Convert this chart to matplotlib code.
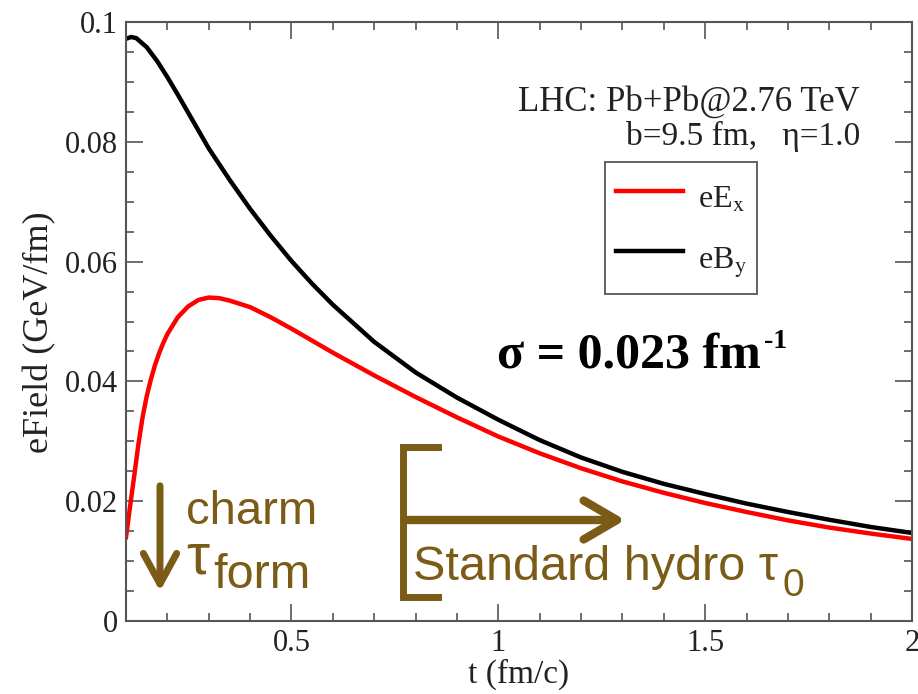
import matplotlib
matplotlib.use("Agg")
import matplotlib.pyplot as plt
from matplotlib.ticker import MultipleLocator

# valeurs
t_B = [0.10, 0.1125, 0.125, 0.15, 0.175, 0.20, 0.225, 0.25, 0.275, 0.30,
       0.35, 0.40, 0.45, 0.50, 0.55, 0.60, 0.70, 0.80, 0.90, 1.00, 1.10,
       1.20, 1.30, 1.40, 1.50, 1.60, 1.70, 1.80, 1.90, 2.00]
eBy = [0.0972, 0.0975, 0.0973, 0.0958, 0.0935, 0.0908, 0.0879, 0.0849,
       0.0819, 0.0789, 0.0737, 0.0688, 0.0643, 0.0601, 0.0563, 0.0528,
       0.0466, 0.0415, 0.0373, 0.0336, 0.0302, 0.0273, 0.0249, 0.0229,
       0.0212, 0.0196, 0.0182, 0.0169, 0.0157, 0.0147]

t_E = [0.10, 0.11, 0.12, 0.13, 0.14, 0.15, 0.16, 0.17, 0.18, 0.19, 0.20,
       0.225, 0.25, 0.275, 0.30, 0.325, 0.35, 0.40, 0.45, 0.50, 0.55, 0.60,
       0.70, 0.80, 0.90, 1.00, 1.10, 1.20, 1.30, 1.40, 1.50, 1.60, 1.70,
       1.80, 1.90, 2.00]
eEx = [0.0140, 0.0192, 0.0243, 0.0295, 0.0340, 0.0375, 0.0403, 0.0427,
       0.0447, 0.0464, 0.0479, 0.0507, 0.0525, 0.0536, 0.0540, 0.0539,
       0.0535, 0.0524, 0.0507, 0.0488, 0.0468, 0.0448, 0.0410, 0.0374,
       0.0340, 0.0308, 0.0280, 0.0255, 0.0233, 0.0214, 0.0197, 0.0182,
       0.0168, 0.0156, 0.0146, 0.0137]

x_ticks = [0.5, 1, 1.5, 2]
x_labels = ["0.5", "1", "1.5", "2"]
y_ticks = [0, 0.02, 0.04, 0.06, 0.08, 0.1]
y_labels = ["0", "0.02", "0.04", "0.06", "0.08", "0.1"]

plt.rcParams["font.family"] = ["Liberation Serif", "DejaVu Serif"]
plt.rcParams["mathtext.fontset"] = "stix"

brown = "#7a5c17"
gris = "#555555"
texte = "#222222"

fig = plt.figure(figsize=(9.18, 6.94), dpi=100)
ax = fig.add_axes([126 / 918, 73 / 694, 786 / 918, 599 / 694])


def px(x, y):
    # pixels de l'image -> fraction des axes
    return ((x - 126) / 786, (621 - y) / 599)


ax.plot(t_E, eEx, color="red", lw=3.2, label=r"eE$_{\rm x}$")
ax.plot(t_B, eBy, color="black", lw=3.2, label=r"eB$_{\rm y}$")

ax.set_xlim(0.1, 2)
ax.set_ylim(0, 0.1)
ax.set_xticks(x_ticks)
ax.set_xticklabels(x_labels)
ax.set_yticks(y_ticks)
ax.set_yticklabels(y_labels)
ax.xaxis.set_minor_locator(MultipleLocator(0.1))
ax.yaxis.set_minor_locator(MultipleLocator(0.005))
ax.tick_params(which="both", direction="in", top=True, right=True,
               color=gris, width=1.2, labelsize=22, pad=6, labelcolor=texte)
ax.tick_params(which="major", length=12)
ax.tick_params(which="minor", length=6)
for s in ax.spines.values():
    s.set_color(gris)
    s.set_linewidth(1.5)

ax.set_xlabel("t (fm/c)", fontsize=24, labelpad=0, color=texte)
ax.set_ylabel("eField (GeV/fm)", fontsize=26, labelpad=6, color=texte)
ax.yaxis.label.set_y(0.482)

leg = ax.legend(loc="upper left", bbox_to_anchor=px(605, 162), fontsize=23,
                handlelength=2.1, handletextpad=0.45, handleheight=2.0,
                labelspacing=0.35, borderpad=0.35, borderaxespad=0,
                fancybox=False, framealpha=1, edgecolor=gris)
leg.get_frame().set_linewidth(1.3)
for txt in leg.get_texts():
    txt.set_color(texte)

ax.text(*px(860, 111), "LHC: Pb+Pb@2.76 TeV", transform=ax.transAxes,
        ha="right", va="baseline", fontsize=25, color=texte)
ax.text(*px(860, 145), "b=9.5 fm,   \u03b7=1.0", transform=ax.transAxes,
        ha="right", va="baseline", fontsize=24, color=texte)

sig = ax.text(*px(497, 368), "\u03c3 = 0.023 fm", transform=ax.transAxes,
              ha="left", va="baseline", fontsize=36, fontweight="bold")
ax.annotate("-1", xy=(1.01, 0.55), xycoords=sig, ha="left", va="bottom",
            fontsize=20, fontweight="bold")

# annotations en brun
sans = ["Liberation Sans", "DejaVu Sans"]
ax.annotate("", xy=px(160, 594), xytext=px(160, 483), xycoords="axes fraction",
            arrowprops=dict(arrowstyle="->, head_length=1.1, head_width=0.6",
                            lw=5, color=brown, mutation_scale=20))
ax.text(*px(186, 524), "charm", transform=ax.transAxes, family=sans,
        fontsize=34, color=brown, va="baseline")
ax.text(*px(186, 573), "\u03c4", transform=ax.transAxes, family=sans,
        fontsize=42, color=brown, va="baseline")
ax.text(*px(213, 588), "form", transform=ax.transAxes, family=sans,
        fontsize=35, color=brown, va="baseline")

bx, by0, by1, bx1 = px(403, 447)[0], px(403, 447)[1], px(403, 597)[1], px(438, 447)[0]
ax.plot([bx1, bx, bx, bx1], [by0, by0, by1, by1], transform=ax.transAxes,
        color=brown, lw=5, solid_joinstyle="miter", clip_on=False)
ax.annotate("", xy=px(628, 520), xytext=px(403, 520), xycoords="axes fraction",
            arrowprops=dict(arrowstyle="->, head_length=1.2, head_width=0.7",
                            lw=6, color=brown, mutation_scale=20))
ax.text(*px(413, 580), "Standard hydro \u03c4", transform=ax.transAxes,
        family=sans, fontsize=35, color=brown, va="baseline")
ax.text(*px(782, 596), "0", transform=ax.transAxes,
        family=sans, fontsize=28, color=brown, va="baseline")

fig.savefig("out.png", dpi=100)
